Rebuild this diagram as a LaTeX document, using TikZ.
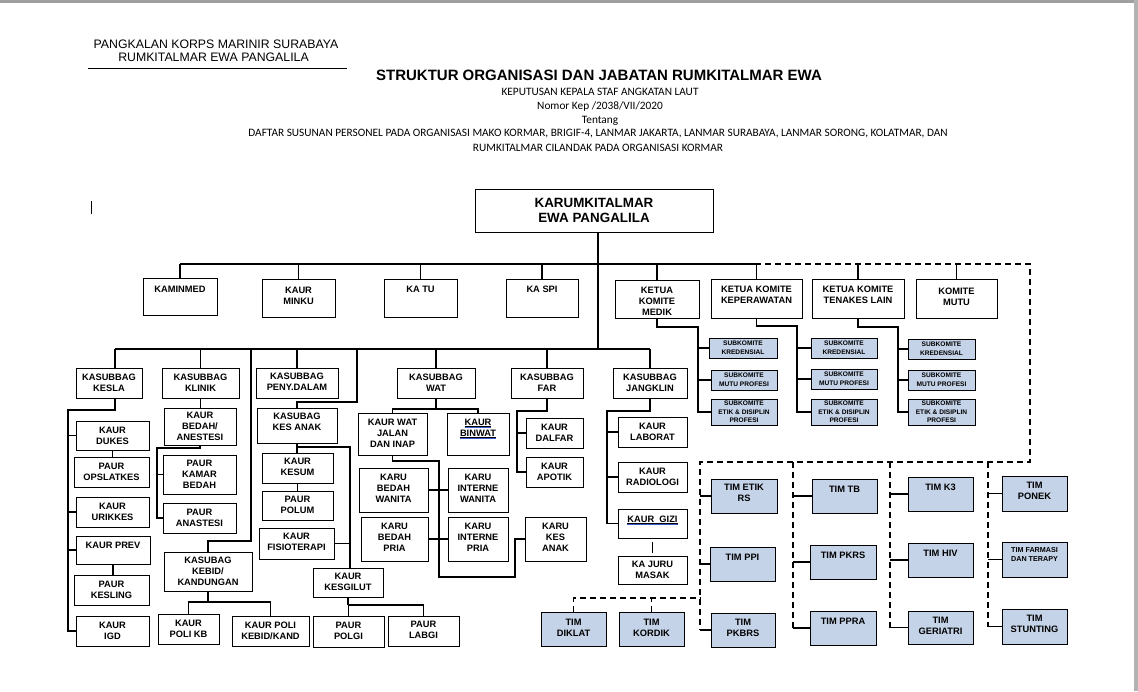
\documentclass[tikz,border=0pt]{standalone}
\usepackage{fontspec}
\setmainfont{Liberation Sans}
\newfontfamily\calfont{Carlito}
\definecolor{tblue}{RGB}{197,211,232}
\definecolor{ulblue}{RGB}{60,90,200}
\tikzset{
  bx/.style={draw=black, line width=0.9pt, fill=white, inner sep=0pt, outer sep=0pt, anchor=north west},
  bb/.style={bx, fill=tblue},
  tx/.style={font=\bfseries\fontsize{9.3}{11}\selectfont, align=center, inner sep=0pt},
  txs/.style={font=\bfseries\fontsize{6.6}{8.6}\selectfont, align=center, inner sep=0pt},
  txb/.style={font=\bfseries\fontsize{13.4}{15}\selectfont, align=center, inner sep=0pt},
  txf/.style={font=\bfseries\fontsize{7.2}{9.5}\selectfont, align=center, inner sep=0pt},
  ln/.style={line width=1.7pt},
  tk/.style={line width=1.3pt},
  dl/.style={line width=1.4pt, dash pattern=on 6pt off 4pt},
  hd/.style={font=\fontsize{12.3}{14}\selectfont, anchor=base, inner sep=0pt},
  sub/.style={font=\calfont\fontsize{11.3}{12}\selectfont, anchor=base, inner sep=0pt},
}
\newcommand\bxg[9]{%
  \node[#1, minimum width={(#6-#4)*1pt}, minimum height={(#7-#5)*1pt}] (#3) at (#4,#5) {};
  \node[#2] (#3-t) at ({(#4+#6)/2},#8) {#9};}
\newcommand\bx{\bxg{bx}{tx}}
\newcommand\bxb{\bxg{bb}{tx}}
\newcommand\bxs{\bxg{bb}{txs}}
\newcommand\wul[1]{\vtop{\hbox{#1}\kern0.4pt\hrule height 0.6pt\kern0.5pt{\color{ulblue}\hrule height 0.7pt}}}
\begin{document}
\begin{tikzpicture}[x=1pt,y=-1pt]
\fill[white] (0,0) rectangle (1138,691);
\useasboundingbox (0,0) rectangle (1138,691);
\fill[gray!75] (0,0) rectangle (1138,3);
\fill[gray!60] (1134,0) rectangle (1138,691);

% header
\node[hd] (h1) at (216,48) {PANGKALAN KORPS MARINIR SURABAYA};
\node[hd] (h2) at (213.5,61.5) {RUMKITALMAR EWA PANGALILA};
\coordinate (hl1) at (88,68);
\coordinate (hl2) at (347,68);
\draw[line width=1pt] (hl1) -- (hl2);
\node[font=\bfseries\fontsize{15}{16}\selectfont, anchor=base, inner sep=0pt] (title) at (599,80.5) {STRUKTUR ORGANISASI DAN JABATAN RUMKITALMAR EWA};
\node[sub] (s1) at (600,95) {KEPUTUSAN KEPALA STAF ANGKATAN LAUT};
\node[sub] (s2) at (600,109) {Nomor Kep /2038/VII/2020};
\node[sub] (s3) at (600,123) {Tentang};
\node[sub] (s4) at (598,136) {DAFTAR SUSUNAN PERSONEL PADA ORGANISASI MAKO KORMAR, BRIGIF-4, LANMAR JAKARTA, LANMAR SURABAYA, LANMAR SORONG, KOLATMAR, DAN};
\node[sub] (s5) at (598,151) {RUMKITALMAR CILANDAK PADA ORGANISASI KORMAR};
\coordinate (cur1) at (91,201);
\coordinate (cur2) at (91,214);
\draw[line width=0.8pt] (cur1) -- (cur2);

% top level
\bxg{bx}{txb}{kar}{475}{189}{713}{232}{210.5}{KARUMKITALMAR\\EWA PANGALILA}
\bx{kamin}{143}{278}{217}{315}{289}{KAMINMED}
\bx{minku}{262}{279}{335}{317}{296}{KAUR\\MINKU}
\bx{katu}{384}{279}{457}{317}{289}{KA TU}
\bx{kaspi}{506}{279}{578}{317}{289}{KA SPI}
\bx{kmedik}{615}{280}{699}{318}{301}{KETUA\\KOMITE\\MEDIK}
\bx{kperawat}{711}{279}{802}{318}{295}{KETUA KOMITE\\KEPERAWATAN}
\bx{ktenakes}{812}{279}{904}{318}{295}{KETUA KOMITE\\TENAKES LAIN}
\bx{kmutu}{916}{279}{997}{318}{297}{KOMITE\\MUTU}

% subkomite
\bxs{sa1}{709}{338}{777}{358}{348}{SUBKOMITE\\KREDENSIAL}
\bxs{sa2}{711}{370}{777}{390}{380}{SUBKOMITE\\MUTU PROFESI}
\bxs{sa3}{711}{399}{777}{425}{412}{SUBKOMITE\\ETIK \& DISIPLIN\\PROFESI}
\bxs{sb1}{811}{338}{877}{358}{348}{SUBKOMITE\\KREDENSIAL}
\bxs{sb2}{811}{369}{877}{389}{379}{SUBKOMITE\\MUTU PROFESI}
\bxs{sb3}{811}{399}{877}{425}{412}{SUBKOMITE\\ETIK \& DISIPLIN\\PROFESI}
\bxs{sc1}{908}{339}{975}{359}{349}{SUBKOMITE\\KREDENSIAL}
\bxs{sc2}{908}{370}{975}{390}{380}{SUBKOMITE\\MUTU PROFESI}
\bxs{sc3}{908}{399}{975}{425}{412}{SUBKOMITE\\ETIK \& DISIPLIN\\PROFESI}

% kasubbag row
\bx{kesla}{76}{368}{142}{398}{383}{KASUBBAG\\KESLA}
\bx{klinik}{162}{368}{239}{398}{383}{KASUBBAG\\KLINIK}
\bx{peny}{256}{368}{338}{398}{382}{KASUBBAG\\PENY.DALAM}
\bx{wat}{397}{368}{475}{398}{383}{KASUBBAG\\WAT}
\bx{far}{511}{368}{583}{398}{383}{KASUBBAG\\FAR}
\bx{jang}{613}{368}{687}{398}{383}{KASUBBAG\\JANGKLIN}

% kesla
\bx{dukes}{76}{421}{149}{450}{435.5}{KAUR\\DUKES}
\bx{opsl}{74}{457}{149}{487}{472}{PAUR\\OPSLATKES}
\bx{urik}{76}{497}{149}{527}{512}{KAUR\\URIKKES}
\bx{prev}{76}{536}{150}{564}{545}{KAUR PREV}
\bx{kesling}{74}{575}{149}{605}{590}{PAUR\\KESLING}
\bx{igd}{76}{616}{149}{646}{631}{KAUR\\IGD}

% klinik
\bx{bedah}{164}{408}{236}{445}{426.5}{KAUR\\BEDAH/\\ANESTESI}
\bx{kamar}{163}{455}{236}{494}{474.5}{PAUR\\KAMAR\\BEDAH}
\bx{anas}{163}{503}{236}{533}{518}{PAUR\\ANASTESI}
\bx{kebid}{164}{552}{252}{591}{571.5}{KASUBAG\\KEBID/\\KANDUNGAN}
\bx{polikb}{158}{614}{219}{644}{629}{KAUR\\POLI KB}
\bx{polikeb}{232}{616}{309}{646}{631}{KAUR POLI\\KEBID/KAND}

% kes anak
\bx{kesanak}{257}{408}{337}{443}{422}{KASUBAG\\KES ANAK}
\bx{kesum}{262}{453}{333}{483}{467}{KAUR\\KESUM}
\bx{polum}{262}{491}{333}{520}{505}{PAUR\\POLUM}
\bx{fisio}{259}{528}{334}{559}{542}{KAUR\\FISIOTERAPI}
\bx{kesgilut}{313}{568}{383}{597}{582}{KAUR\\KESGILUT}
\bx{polgi}{313}{616}{384}{647}{630.5}{PAUR\\POLGI}
\bx{labgi}{388}{616}{459}{646}{630}{PAUR\\LABGI}

% wat
\bx{watjalan}{358}{413}{427}{455}{433}{KAUR WAT\\JALAN\\DAN INAP}
\bx{binwat}{447}{413}{509}{455}{429}{\wul{KAUR}\\\wul{BINWAT}}
\bx{bw}{359}{468}{428}{512}{488.5}{KARU\\BEDAH\\WANITA}
\bx{iw}{448}{468}{508}{512}{488.5}{KARU\\INTERNE\\WANITA}
\bx{bp}{361}{517}{428}{561}{537}{KARU\\BEDAH\\PRIA}
\bx{ip}{448}{517}{508}{561}{537}{KARU\\INTERNE\\PRIA}
\bx{karuka}{525}{517}{586}{561}{537}{KARU\\KES\\ANAK}

% far
\bx{dalfar}{526}{418}{583}{448}{433}{KAUR\\DALFAR}
\bx{apotik}{526}{457}{583}{487}{472}{KAUR\\APOTIK}

% jangklin
\bx{lab}{618}{417}{687}{447}{432}{KAUR\\LABORAT}
\bx{rad}{618}{462}{687}{492}{477}{KAUR\\RADIOLOGI}
\bx{gizi}{618}{509}{687}{538}{520}{\wul{KAUR\ \ GIZI}}
\bx{juru}{618}{556}{687}{584}{570}{KA JURU\\MASAK}

% tim
\bxb{diklat}{541}{612}{606}{646}{627.5}{TIM\\DIKLAT}
\bxb{kordik}{619}{612}{684}{646}{627.5}{TIM\\KORDIK}
\bxb{etik}{711}{479}{777}{513}{493}{TIM ETIK\\RS}
\bxb{ppi}{710}{547}{775}{581}{557}{TIM PPI}
\bxb{pkbrs}{711}{613}{775}{647}{627.5}{TIM\\PKBRS}
\bxb{tb}{812}{479}{877}{513}{489}{TIM TB}
\bxb{pkrs}{810}{545}{876}{579}{555}{TIM PKRS}
\bxb{ppra}{810}{611}{876}{645}{621}{TIM PPRA}
\bxb{k3}{908}{477}{973}{511}{487}{TIM K3}
\bxb{hiv}{908}{543}{973}{577}{553}{TIM HIV}
\bxb{ger}{908}{611}{973}{644}{625.5}{TIM\\GERIATRI}
\bxb{ponek}{1002}{476}{1067}{511}{490.5}{TIM\\PONEK}
\bxg{bb}{txf}{farmasi}{1002}{542}{1067}{577}{554.5}{TIM FARMASI\\DAN TERAPY}
\bxb{stunting}{1002}{609}{1067}{644}{623.5}{TIM\\STUNTING}

% ---- connectors ----
\coordinate (tbL) at (178,264);
\coordinate (tbM) at (755,264);
\coordinate (tbR) at (1030,264);
\coordinate (busL) at (115,349);
\coordinate (busM) at (598,349);
\draw[ln] (kamin.north |- tbL) -- (tbM);
\draw[ln] (kar.south -| busM) -- (busM);
\foreach \n in {kamin,minku,katu,kaspi,kmedik,kperawat,ktenakes,kmutu}
  \draw[ln] (\n.north) -- (\n.north |- tbL);
\draw[ln] (busL) -- (jang.north |- busL);

% komite -> subkomite
\coordinate (ma) at (698,327);
\coordinate (mb) at (797,326);
\coordinate (mc) at (898,327);
\draw[ln] (kmedik.south) |- (ma) -- (ma |- sa3.west) -- (sa3.west);
\draw[ln] (ma |- sa1.west) -- (sa1.west);
\draw[ln] (ma |- sa2.west) -- (sa2.west);
\draw[ln] (kperawat.south) |- (mb) -- (mb |- sb3.west) -- (sb3.west);
\draw[ln] (mb |- sb1.west) -- (sb1.west);
\draw[ln] (mb |- sb2.west) -- (sb2.west);
\draw[ln] (ktenakes.south) |- (mc) -- (mc |- sc3.west) -- (sc3.west);
\draw[ln] (mc |- sc1.west) -- (sc1.west);
\draw[ln] (mc |- sc2.west) -- (sc2.west);

% kasubbag drops
\draw[ln] (busL |- kesla.north) -- (busL);
\draw[ln] (klinik.north) -- (klinik.north |- busL);
\draw[ln] (peny.north) -- (peny.north |- busL);
\draw[ln] (wat.north) -- (wat.north |- busL);
\draw[ln] (far.north) -- (far.north |- busL);
\draw[ln] (jang.north) -- (jang.north |- busL);
\coordinate (kb2) at (251,541);
\draw[ln] (kebid.north) |- (kb2) -- (kb2 |- busL);
\coordinate (ka1) at (357,402);
\draw[ln] (kesanak.north) |- (ka1) -- (ka1 |- busL);

% kesla branch
\coordinate (ke1) at (68,410);
\draw[ln] (busL |- kesla.south) |- (ke1) -- (ke1 |- igd.west) -- (igd.west);
\draw[ln] (ke1 |- dukes.west) -- (dukes.west);
\draw[ln] (ke1 |- urik.west) -- (urik.west);
\draw[ln] (ke1 |- prev.west) -- (prev.west);
\draw[ln] (dukes.south) -- (dukes.south |- opsl.north);
\draw[ln] (prev.south) -- (prev.south |- kesling.north);

% klinik branch
\draw[ln] (klinik.south) -- (klinik.south |- bedah.north);
\coordinate (kl1) at (157,448);
\draw[ln] (bedah.south) |- (kl1) -- (kl1 |- anas.west) -- (anas.west);
\draw[ln] (kl1 |- kamar.west) -- (kamar.west);

% kebid branch
\coordinate (kp) at (208,602);
\draw[ln] (kebid.south) -- (kp);
\draw[ln] (polikb.north) |- (kp) -| (polikeb.north);

% kes anak branch
\draw[ln] (kesanak.south) -- (kesanak.south |- kesum.north);
\draw[ln] (kesum.south) -- (kesum.south |- polum.north);
\coordinate (ka2) at (350,447);
\draw[ln] (kesanak.south |- ka2) -- (ka2) -- (ka2 |- kesgilut.north);
\draw[ln] (fisio.east) -- (fisio.east -| ka2);
\coordinate (kg) at (348,605);
\draw[ln] (kesgilut.south) -- (kg);
\draw[ln] (polgi.north) |- (kg) -| (labgi.north);

% wat branch
\coordinate (w1) at (436,409);
\draw[ln] (wat.south) -- (w1);
\draw[ln] (watjalan.north) |- (w1) -| (binwat.north);
\coordinate (w2) at (439,461);
\coordinate (w3) at (515,577);
\draw[ln] (watjalan.south) |- (w2) -- (w2 |- w3) -- (w3) |- (karuka.west);
\draw[ln] (bw.east) -- (iw.west);
\draw[ln] (bp.east) -- (ip.west);

% far branch
\coordinate (f1) at (517,411);
\draw[ln] (far.south) |- (f1) -- (f1 |- apotik.west) -- (apotik.west);
\draw[ln] (f1 |- dalfar.west) -- (dalfar.west);

% jangklin branch
\coordinate (j1) at (607,411);
\draw[ln] (jang.south) |- (j1) -- (j1 |- gizi.west) -- (gizi.west);
\draw[ln] (j1 |- lab.west) -- (lab.west);
\draw[ln] (j1 |- rad.west) -- (rad.west);
\draw[ln] ([yshift=-4pt]gizi.south) -- ([yshift=3pt]juru.north);

% dashed tim network
\coordinate (dL) at (700,462);
\coordinate (c2) at (793,462);
\coordinate (c3) at (890,462);
\coordinate (c4) at (988,462);
\coordinate (dk) at (700,598);
\draw[dl] (tbM) -- (tbR) |- (dL) -- (dL |- pkbrs.west);
\draw[dl] (c2) -- (c2 |- ppra.west);
\draw[dl] (c3) -- (c3 |- ger.west);
\draw[dl] (c4) -- (c4 |- stunting.west);
\draw[dl] (diklat.north) |- (dk);
\draw[dl] (kordik.north) -- (kordik.north |- dk);
\foreach \n in {etik,ppi,pkbrs} \draw[tk] (dL |- \n.west) -- (\n.west);
\foreach \n in {tb,pkrs,ppra} \draw[tk] (c2 |- \n.west) -- (\n.west);
\foreach \n in {k3,hiv,ger} \draw[tk] (c3 |- \n.west) -- (\n.west);
\foreach \n in {ponek,farmasi,stunting} \draw[tk] (c4 |- \n.west) -- (\n.west);
\end{tikzpicture}
\end{document}
